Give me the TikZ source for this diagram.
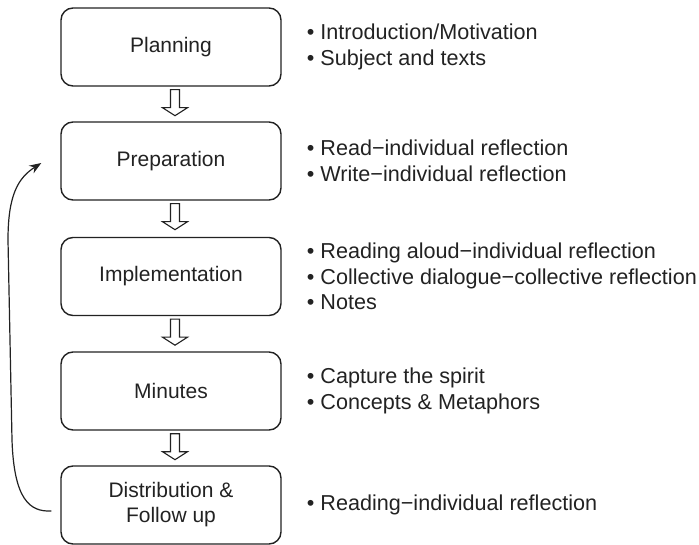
\documentclass[tikz,border=0pt]{standalone}
\usepackage{fontspec}
\setmainfont{Liberation Sans}
\usetikzlibrary{calc,arrows.meta}
\definecolor{ink}{HTML}{222222}

% hollow block arrow pointing down from one stage to the next
\newcommand\stagearrow[1]{%
  \draw[hollowarrow] ($(#1.south)+(4,0)$) ++(-4.5,-3) -- ++(0,-18) -- ++(-8,0)
    -- ++(12.5,-8) -- ++(12.5,8) -- ++(-8,0) -- ++(0,18) -- cycle;}

\begin{document}
\begin{tikzpicture}[x=1pt,y=1pt,
  stage/.style={draw=ink, line width=1.4pt, rounded corners=12pt,
    minimum width=220pt, minimum height=78pt, align=center,
    font=\fontsize{21}{25}\selectfont, text=ink},
  notes/.style={anchor=west, align=left, inner sep=0pt,
    font=\fontsize{21.6}{25.5}\selectfont, text=ink},
  hollowarrow/.style={draw=ink, line width=1.1pt, fill=white, line join=miter},
  loopback/.style={draw=ink, line width=1.2pt, -{Stealth[length=12pt,width=9pt]}}
]
\useasboundingbox (0,0) rectangle (699,-545);

% process stages
\node[stage] (plan) at (171,-47)  {Planning};
\node[stage] (prep) at (171,-161) {Preparation};
\node[stage] (impl) at (171,-276.5) {Implementation};
\node[stage] (mins) at (171,-391) {Minutes};
\node[stage] (dist) at (171,-505) {Distribution \&\\Follow up};

% activities for each stage
\node[notes] (plannotes) at ([xshift=25pt]plan.east) {• Introduction/Motivation\\• Subject and texts};
\node[notes] (prepnotes) at ([xshift=25pt]prep.east) {• Read−individual reflection\\• Write−individual reflection};
\node[notes] (implnotes) at ([xshift=25pt]impl.east) {• Reading aloud−individual reflection\\• Collective dialogue−collective reflection\\• Notes};
\node[notes] (minsnotes) at ([xshift=25pt]mins.east) {• Capture the spirit\\• Concepts \& Metaphors};
\node[notes] (distnotes) at ([xshift=25pt]dist.east) {• Reading−individual reflection};

% flow between stages
\stagearrow{plan}
\stagearrow{prep}
\stagearrow{impl}
\stagearrow{mins}

% feedback from follow-up back to preparation
\coordinate (loopstart) at ([xshift=-9pt,yshift=-6pt]dist.west);
\coordinate (loopend) at ([xshift=-19pt,yshift=-2pt]prep.west);
\draw[loopback] (loopstart) .. controls (30,-512) and (14,-500) .. (12,-440)
  -- (8,-240) .. controls (8,-195) and (18,-178) .. (loopend);
\end{tikzpicture}
\end{document}
